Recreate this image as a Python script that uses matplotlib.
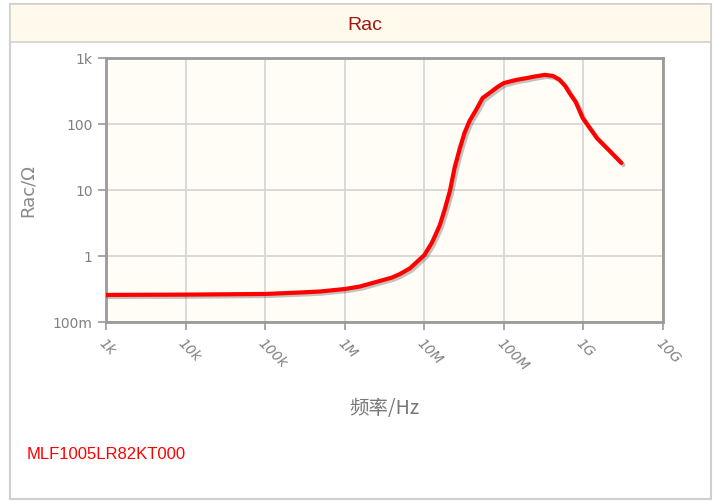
import matplotlib
matplotlib.use("Agg")
import matplotlib.pyplot as plt
from matplotlib.patches import Rectangle
import matplotlib.patheffects as pe

plt.rcParams['font.family'] = ['DejaVu Sans', 'Noto Sans CJK SC']

freq_hz = [1e3, 1e4, 1e5, 2.75e5, 4.9e5, 1e6, 1.55e6, 2.75e6, 3.9e6, 4.9e6, 6.6e6, 7.6e6,
           1e7, 1.24e7, 1.36e7, 1.57e7, 1.8e7, 2.1e7, 2.4e7, 2.8e7, 3.2e7, 3.7e7, 4.47e7,
           5.4e7, 6.6e7, 8.3e7, 1e8, 1.41e8, 1.95e8, 2.45e8, 3.27e8, 4.13e8, 5e8, 5.9e8,
           6.75e8, 8e8, 9.8e8, 1.2e9, 1.48e9, 2.14e9, 3.0e9]
rac_ohm = [0.257, 0.26, 0.266, 0.28, 0.29, 0.316, 0.345, 0.418, 0.47, 0.53, 0.65, 0.76,
           1.03, 1.57, 2.0, 2.95, 5.0, 9.7, 21.5, 43, 73, 111, 163,
           247, 295, 363, 417, 464, 497, 525, 555, 535, 470, 377,
           290, 215, 123, 87, 61, 39, 25.7]

x_ticks = [1e3, 1e4, 1e5, 1e6, 1e7, 1e8, 1e9, 1e10]
x_tick_labels = ['1k', '10k', '100k', '1M', '10M', '100M', '1G', '10G']
y_ticks = [0.1, 1, 10, 100, 1000]
y_tick_labels = ['100m', '1', '10', '100', '1k']

W, H = 715, 502
fig = plt.figure(figsize=(W / 100, H / 100), dpi=100)
fig.patch.set_facecolor('white')

# outer border and title band
fig.patches.append(Rectangle((10 / W, 1 - 500 / H), 701 / W, 495 / H, transform=fig.transFigure,
                             facecolor='white', edgecolor='#d0d0d0', linewidth=1.5, zorder=-2))
fig.patches.append(Rectangle((10 / W, 1 - 43 / H), 701 / W, 38 / H, transform=fig.transFigure,
                             facecolor='#fffaeb', edgecolor='#d0d0d0', linewidth=1.2, zorder=-1))
fig.text(365 / W, 1 - 25 / H, 'Rac', color='#a31515', fontsize=14, ha='center', va='center',
         family=['Liberation Sans Narrow', 'Liberation Sans', 'DejaVu Sans'])

ax = fig.add_axes([106 / W, 1 - 323 / H, 557 / W, 264 / H])
ax.set_zorder(2)
ax.set_facecolor('#fffdf5')
ax.plot(freq_hz, rac_ohm, color='#ff0000', linewidth=3, solid_capstyle='round',
        solid_joinstyle='round', zorder=3,
        path_effects=[pe.SimpleLineShadow(offset=(1.5, -1.5), alpha=0.35, shadow_color='#555555'),
                      pe.Normal()])
ax.set_xscale('log')
ax.set_yscale('log')
ax.set_xlim(1e3, 1e10)
ax.set_ylim(0.1, 1000)
ax.set_xticks(x_ticks)
ax.set_xticklabels(x_tick_labels)
ax.set_yticks(y_ticks)
ax.set_yticklabels(y_tick_labels)
ax.minorticks_off()
ax.grid(True, color='#d4d4d4', linewidth=1.2)
ax.set_axisbelow(True)
for s in ax.spines.values():
    s.set_color('#9a9a9a')
    s.set_linewidth(2)
ax.tick_params(axis='both', colors='#9a9a9a', length=6, width=1.2, labelcolor='#808080',
               labelsize=10)
for lbl in ax.get_xticklabels():
    lbl.set_rotation(-45)
    lbl.set_rotation_mode('anchor')
    lbl.set_ha('left')
    lbl.set_va('top')
    lbl.set_fontstyle('italic')
ax.set_ylabel('Rac/Ω', color='#8a8a8a', fontsize=13, labelpad=12)
ax.set_xlabel('频率/Hz', color='#777777', fontsize=14, labelpad=18,
              family=['Noto Sans CJK SC', 'DejaVu Sans'])

fig.text(27 / W, 1 - 455 / H, 'MLF1005LR82KT000', color='#ff0000', fontsize=12,
         ha='left', va='center', family=['Liberation Sans', 'DejaVu Sans'])

fig.savefig('out.png', dpi=100)
